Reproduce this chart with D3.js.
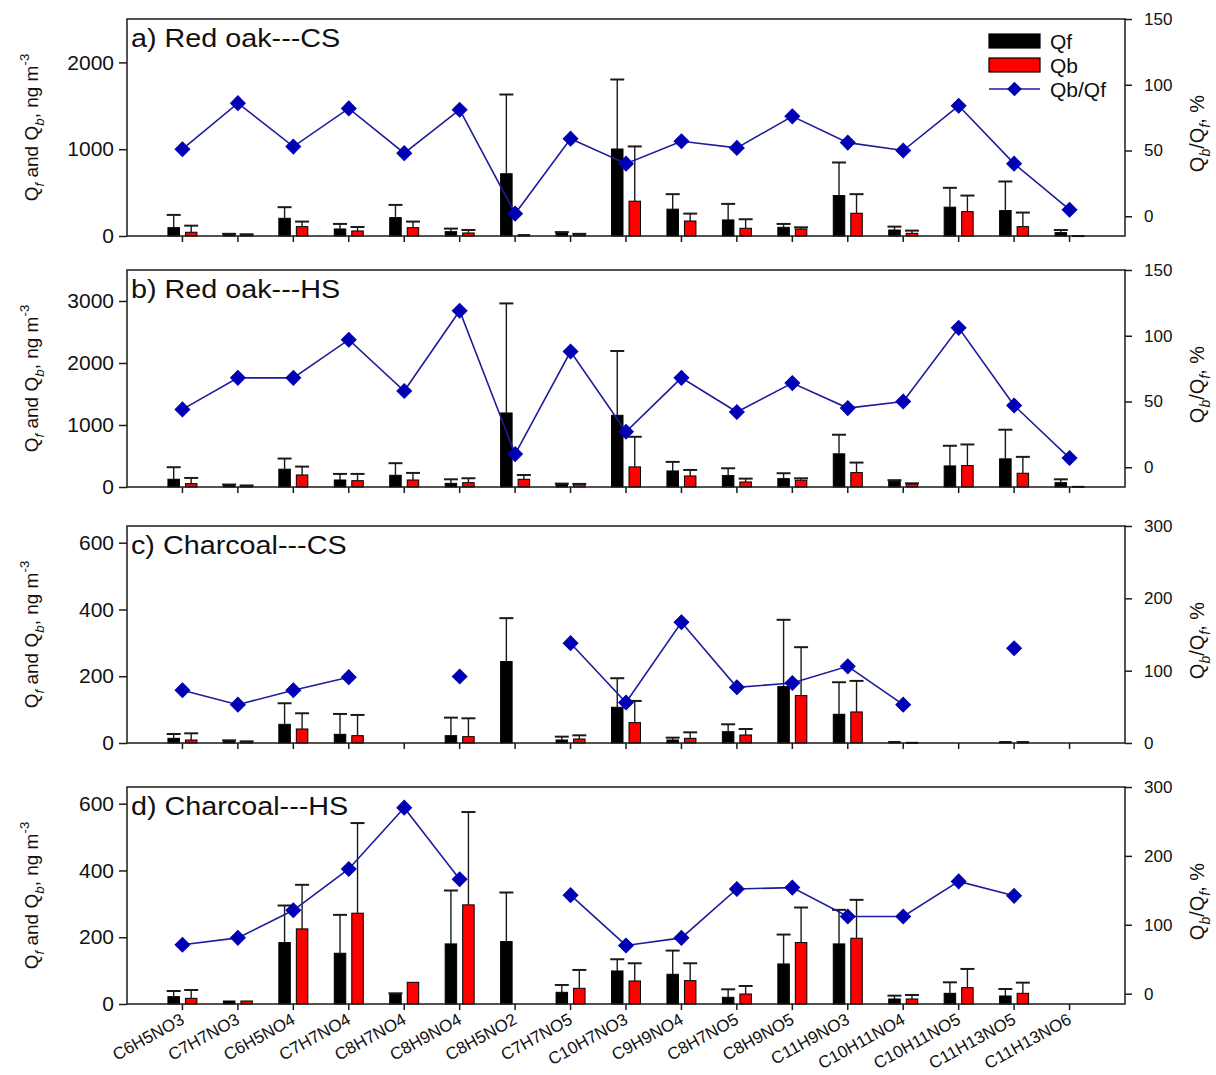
<!DOCTYPE html>
<html lang="en">
<head>
<meta charset="UTF-8">
<title>Qf, Qb and Qb/Qf of nitroaromatics</title>
<script src="https://d3js.org/d3.v7.min.js"></script>
<style>
  body { margin: 0; background: #fff; }
  svg text { font-family: "Liberation Sans", Arial, sans-serif; fill: #111; }
</style>
</head>
<body>
<svg id="chart" width="1216" height="1075"></svg>
<script>
const compounds = ["C6H5NO3", "C7H7NO3", "C6H5NO4", "C7H7NO4", "C8H7NO4", "C8H9NO4", "C8H5NO2",
  "C7H7NO5", "C10H7NO3", "C9H9NO4", "C8H7NO5", "C8H9NO5", "C11H9NO3", "C10H11NO4",
  "C10H11NO5", "C11H13NO5", "C11H13NO6"];

// a) Red oak---CS
const qfA    = [96, 20, 204, 81, 212, 50, 717, 40, 1002, 309, 185, 100, 466, 69, 332, 293, 39];
const qfSdA  = [147, 5, 128, 58, 146, 35, 913, 5, 801, 173, 185, 39, 381, 39, 223, 335, 30];
const qbA    = [43, 15, 108, 58, 96, 35, 15, 20, 401, 173, 89, 81, 262, 31, 281, 108, 5];
const qbSdA  = [76, 5, 58, 46, 70, 34, 0, 5, 631, 85, 104, 19, 220, 31, 185, 162, 0];
const ratioA = [51, 86, 53, 82, 48, 81, 2, 59, 40, 57, 52, 76, 56, 50, 84, 40, 5];

// b) Red oak---HS
const qfB    = [125, 32, 287, 113, 189, 59, 1194, 49, 1156, 259, 184, 135, 535, 95, 340, 454, 70];
const qfSdB  = [194, 8, 172, 98, 195, 65, 1767, 6, 1038, 146, 118, 87, 308, 15, 325, 470, 54];
const qbB    = [54, 21, 194, 102, 113, 70, 124, 45, 324, 178, 81, 110, 232, 50, 346, 222, 10];
const qbSdB  = [92, 4, 135, 109, 114, 71, 70, 5, 486, 97, 54, 30, 162, 10, 340, 264, 0];
const ratioB = [44, 68, 68, 97, 58, 119, 10, 88, 27, 68, 42, 64, 45, 50, 106, 47, 7];

// c) Charcoal---CS
const qfC    = [14, 6, 56, 26, null, 22, 244, 9, 107, 9, 34, 169, 86, 4, null, 4, null];
const qfSdC  = [13, 2, 63, 61, 0, 54, 130, 10, 87, 7, 22, 200, 96, 0, 0, 0, 0];
const qbC    = [9, 4, 42, 22, null, 19, null, 12, 61, 14, 24, 142, 93, 2, null, 4, null];
const qbSdC  = [20, 1, 47, 62, 0, 55, 0, 11, 65, 18, 18, 145, 93, 0, 0, 0, 0];
const ratioC = [73, 53, 73, 91, null, 92, null, 138, 56, 167, 77, 83, 106, 53, null, 131, null];

// d) Charcoal---HS
const qfD    = [22, 9, 184, 152, 30, 180, 187, 35, 99, 89, 20, 120, 180, 15, 32, 24, null];
const qfSdD  = [17, 0, 111, 115, 2, 160, 147, 22, 35, 71, 24, 88, 102, 10, 33, 21, 0];
const qbD    = [17, 9, 225, 272, 65, 297, null, 47, 69, 70, 30, 184, 197, 15, 49, 32, null];
const qbSdD  = [25, 0, 132, 270, 0, 278, 0, 55, 53, 52, 24, 105, 115, 12, 56, 32, 0];
const ratioD = [71, 81, 121, 181, 270, 166, null, 143, 70, 81, 152, 154, 112, 112, 163, 142, null];

const panelTitles = ["a) Red oak---CS", "b) Red oak---HS", "c) Charcoal---CS", "d) Charcoal---HS"];
const leftDomains = [[0, 2500], [0, 3500], [0, 650], [0, 650]];
const leftTicks = [[0, 1000, 2000], [0, 1000, 2000, 3000], [0, 200, 400, 600], [0, 200, 400, 600]];
const rightDomains = [[-15, 150], [-15, 150], [0, 300], [-15, 300]];
const rightTicks = [[0, 50, 100, 150], [0, 50, 100, 150], [0, 100, 200, 300], [0, 100, 200, 300]];
const legendItems = ["Qf", "Qb", "Qb/Qf"];

const panels = [
  { qf: qfA, qfSd: qfSdA, qb: qbA, qbSd: qbSdA, ratio: ratioA },
  { qf: qfB, qfSd: qfSdB, qb: qbB, qbSd: qbSdB, ratio: ratioB },
  { qf: qfC, qfSd: qfSdC, qb: qbC, qbSd: qbSdC, ratio: ratioC },
  { qf: qfD, qfSd: qfSdD, qb: qbD, qbSd: qbSdD, ratio: ratioD }
];

const svg = d3.select("#chart");
const left = 127, right = 1125, ph = 217;
const tops = [19, 270, 526, 787];
const blue = "#0000b4", lineBlue = "#1c1c9c", red = "#ff0000", ink = "#1a1a1a";

const x = d3.scaleBand().domain(compounds).range([left, right]).paddingInner(0).paddingOuter(0.5);
const cx = c => x(c) + x.bandwidth() / 2;
const xSub = d3.scaleBand().domain(["qf", "qb"]).range([-14.5, 14.5]).paddingInner(0.343);

// sub/superscript helper
function rich(text, parts, fs) {
  let shift = 0;
  parts.forEach(([s, kind]) => {
    const target = kind === "sub" ? fs * 0.3 : kind === "sup" ? -fs * 0.45 : 0;
    const t = text.append("tspan").attr("dy", target - shift).text(s);
    if (kind) t.attr("font-size", fs * 0.7);
    if (kind === "sub") t.attr("font-style", "italic");
    shift = target;
  });
}

const diamond = d3.symbol().type(d3.symbolSquare).size(108);

panels.forEach((p, k) => {
  const top = tops[k], bottom = top + ph;
  const y = d3.scaleLinear().domain(leftDomains[k]).range([bottom, top]);
  const y2 = d3.scaleLinear().domain(rightDomains[k]).range([bottom, top]);
  const g = svg.append("g");

  // bars
  [["qf", "#000", p.qf, p.qfSd], ["qb", red, p.qb, p.qbSd]].forEach(([key, col, vals, sds]) => {
    const rows = compounds.map((c, i) => ({ c, v: vals[i], sd: sds[i] })).filter(d => d.v != null);
    g.selectAll(".bar-" + key).data(rows).enter().append("rect")
      .attr("x", d => cx(d.c) + xSub(key))
      .attr("y", d => y(d.v))
      .attr("width", xSub.bandwidth())
      .attr("height", d => Math.max(1, bottom - y(d.v)))
      .attr("fill", col)
      .attr("stroke", "#000")
      .attr("stroke-width", 1);

    const errs = rows.filter(d => d.sd > 0);
    const mid = d => cx(d.c) + xSub(key) + xSub.bandwidth() / 2;
    g.selectAll(".err-" + key).data(errs).enter().append("line")
      .attr("x1", mid).attr("x2", mid)
      .attr("y1", d => y(d.v)).attr("y2", d => y(d.v + d.sd))
      .attr("stroke", ink).attr("stroke-width", 1.4);
    g.selectAll(".cap-" + key).data(errs).enter().append("line")
      .attr("x1", d => mid(d) - 7).attr("x2", d => mid(d) + 7)
      .attr("y1", d => y(d.v + d.sd)).attr("y2", d => y(d.v + d.sd))
      .attr("stroke", ink).attr("stroke-width", 2);
  });

  // ratio line and diamonds
  const pts = compounds.map((c, i) => ({ c, r: p.ratio[i] }));
  g.append("path")
    .datum(pts)
    .attr("fill", "none")
    .attr("stroke", lineBlue)
    .attr("stroke-width", 1.6)
    .attr("d", d3.line().defined(d => d.r != null).x(d => cx(d.c)).y(d => y2(d.r)));
  g.selectAll(".dia").data(pts.filter(d => d.r != null)).enter().append("path")
    .attr("d", diamond)
    .attr("fill", blue)
    .attr("stroke", blue)
    .attr("transform", d => `translate(${cx(d.c)},${y2(d.r)}) rotate(45)`);

  // frame
  g.append("rect")
    .attr("x", left).attr("y", top)
    .attr("width", right - left).attr("height", ph)
    .attr("fill", "none").attr("stroke", ink).attr("stroke-width", 1.5);

  // axes
  const ay = g.append("g").attr("transform", `translate(${left},0)`)
    .call(d3.axisLeft(y).tickValues(leftTicks[k]).tickSize(8).tickPadding(5).tickFormat(d3.format("d")));
  ay.selectAll("text").attr("font-size", 21);

  const ay2 = g.append("g").attr("transform", `translate(${right},0)`)
    .call(d3.axisRight(y2).tickValues(rightTicks[k]).tickSize(7).tickPadding(12).tickFormat(d3.format("d")));
  ay2.selectAll("text").attr("font-size", 17);

  const ax = g.append("g").attr("transform", `translate(0,${bottom})`)
    .call(d3.axisBottom(x).tickSize(6).tickFormat(k === 3 ? (d => d) : () => ""));
  if (k === 3) {
    ax.selectAll("text")
      .attr("font-size", 17)
      .attr("text-anchor", "end")
      .attr("y", 0).attr("dy", 0)
      .attr("transform", "translate(3,19) rotate(-29)");
  }
  [ay, ay2, ax].forEach(a => {
    a.select(".domain").remove();
    a.selectAll(".tick line").attr("stroke", ink).attr("stroke-width", 1.5);
    a.selectAll("text").attr("fill", "#111").attr("font-family", "'Liberation Sans', Arial, sans-serif");
  });

  // panel title (the source figure is slightly stretched horizontally)
  g.append("text")
    .attr("transform", `translate(${left + 4},${top + 28}) scale(1.15,1)`)
    .attr("font-size", 25)
    .text(panelTitles[k]);

  // axis titles
  const lt = g.append("text")
    .attr("transform", `translate(38,${top + ph / 2}) rotate(-90)`)
    .attr("text-anchor", "middle")
    .attr("font-size", 19);
  rich(lt, [["Q", ""], ["f", "sub"], [" and Q", ""], ["b", "sub"], [", ng m", ""], ["-3", "sup"]], 19);

  const rt = g.append("text")
    .attr("transform", `translate(1204,${top + ph / 2 + 6}) rotate(-90)`)
    .attr("text-anchor", "middle")
    .attr("font-size", 20);
  rich(rt, [["Q", ""], ["b", "sub"], ["/Q", ""], ["f", "sub"], [", %", ""]], 20);
});

// legend (panel a)
const lg = svg.append("g").attr("transform", "translate(989,34)");
legendItems.forEach((name, i) => {
  const row = lg.append("g").attr("transform", `translate(0,${i * 24})`);
  if (i < 2) {
    row.append("rect").attr("x", 0).attr("y", 0).attr("width", 51).attr("height", 14)
      .attr("fill", i === 0 ? "#000" : red).attr("stroke", "#000").attr("stroke-width", 1.2);
  } else {
    row.append("line").attr("x1", 0).attr("x2", 51).attr("y1", 7).attr("y2", 7)
      .attr("stroke", lineBlue).attr("stroke-width", 1.6);
    row.append("path").attr("d", diamond).attr("fill", blue)
      .attr("transform", "translate(25.5,7) rotate(45)");
  }
  row.append("text").attr("x", 61).attr("y", 15).attr("font-size", 21).text(name);
});
</script>
</body>
</html>
